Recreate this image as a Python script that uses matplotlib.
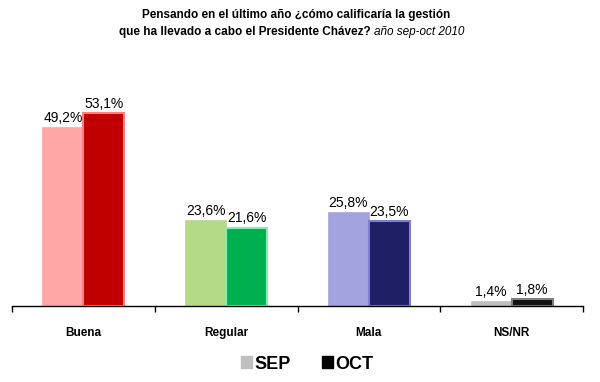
import matplotlib
matplotlib.use("Agg")
import matplotlib.pyplot as plt
from matplotlib.patches import Patch
import numpy as np

# data
categories = ["Buena", "Regular", "Mala", "NS/NR"]
sep_vals = [49.2, 23.6, 25.8, 1.4]
oct_vals = [53.1, 21.6, 23.5, 1.8]

sep_colors = ["#FFA6A6", "#B4DA88", "#A3A3E0", "#C0C0C0"]
oct_colors = ["#C00000", "#00B050", "#1F1F66", "#111111"]
oct_edges = ["#FF8080", "#80F0B0", "#8080D0", "#808080"]

plt.rcParams['font.family'] = ['Liberation Sans', 'DejaVu Sans']

fig = plt.figure(figsize=(6, 3.82), dpi=100)
ax = fig.add_axes([0.02, 0.199, 0.9517, 0.67])

x = np.arange(len(categories))
w = 0.287

bars_sep = ax.bar(x - w / 2, sep_vals, w, color=sep_colors, edgecolor=sep_colors, linewidth=0.5)
bars_oct = ax.bar(x + w / 2, oct_vals, w, color=oct_colors, edgecolor=oct_edges, linewidth=1.5)

def fmt(v):
    return f"{v:.1f}%".replace(".", ",")

for bars, vals in [(bars_sep, sep_vals), (bars_oct, oct_vals)]:
    for b, v in zip(bars, vals):
        ax.annotate(fmt(v), (b.get_x() + b.get_width() / 2, v),
                    xytext=(0, 1.5), textcoords="offset points",
                    ha="center", va="bottom", fontsize=10, color="black")

ax.set_xlim(-0.5, len(categories) - 0.5)
ax.set_ylim(0, 70.5)

for s in ["top", "right", "left"]:
    ax.spines[s].set_visible(False)
ax.spines["bottom"].set_linewidth(1)
ax.set_yticks([])

ax.set_xticks(x)
ax.set_xticklabels(categories, fontsize=8.5, fontweight="bold")
ax.tick_params(axis="x", which="major", length=0, pad=15)
ax.set_xticks(np.arange(len(categories) + 1) - 0.5, minor=True)
ax.tick_params(axis="x", which="minor", length=4, width=1, direction="out")

# title, second line has an italic tail
fig.text(0.494, 0.962, "Pensando en el último año ¿cómo calificaría la gestión",
         ha="center", va="center", fontsize=8.5, fontweight="bold")
t2 = fig.text(0.199, 0.915, "que ha llevado a cabo el Presidente Chávez? ",
              ha="left", va="center", fontsize=8.5, fontweight="bold")
ax.annotate("año sep-oct 2010", xy=(1, 0), xycoords=t2, va="bottom", ha="left",
            fontsize=8.5, style="italic")

handles = [Patch(facecolor="#C0C0C0", edgecolor="#C0C0C0"),
           Patch(facecolor="#000000", edgecolor="#000000")]
fig.legend(handles, ["SEP", "OCT"], loc="center", bbox_to_anchor=(0.512, 0.047),
           ncol=2, frameon=False, prop={"size": 13, "weight": "bold"},
           handlelength=0.6, handleheight=0.6, handletextpad=0.15, columnspacing=1.7)

fig.savefig("out.png", dpi=100)
